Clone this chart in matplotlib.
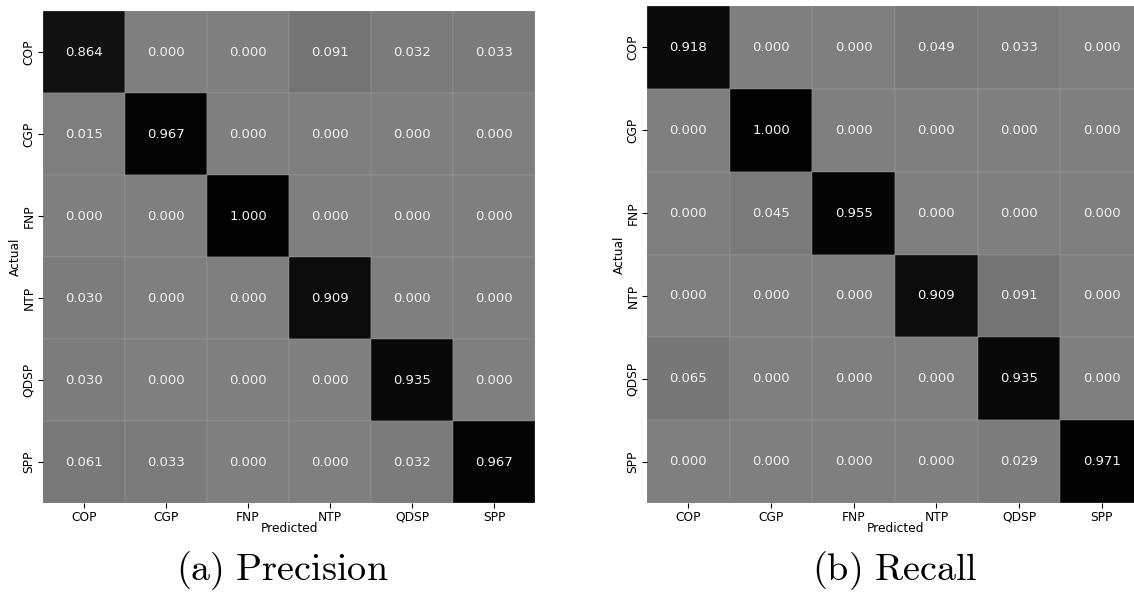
import numpy as np
import matplotlib
matplotlib.use("Agg")
import matplotlib.pyplot as plt

classes = ["COP", "CGP", "FNP", "NTP", "QDSP", "SPP"]

precision = [
    [0.864, 0.000, 0.000, 0.091, 0.032, 0.033],
    [0.015, 0.967, 0.000, 0.000, 0.000, 0.000],
    [0.000, 0.000, 1.000, 0.000, 0.000, 0.000],
    [0.030, 0.000, 0.000, 0.909, 0.000, 0.000],
    [0.030, 0.000, 0.000, 0.000, 0.935, 0.000],
    [0.061, 0.033, 0.000, 0.000, 0.032, 0.967],
]

recall = [
    [0.918, 0.000, 0.000, 0.049, 0.033, 0.000],
    [0.000, 1.000, 0.000, 0.000, 0.000, 0.000],
    [0.000, 0.045, 0.955, 0.000, 0.000, 0.000],
    [0.000, 0.000, 0.000, 0.909, 0.091, 0.000],
    [0.065, 0.000, 0.000, 0.000, 0.935, 0.000],
    [0.000, 0.000, 0.000, 0.000, 0.029, 0.971],
]

captions = ["(a) Precision", "(b) Recall"]

plt.rcParams["mathtext.fontset"] = "cm"

W, H = 1134, 593
fig = plt.figure(figsize=(W / 100, H / 100), dpi=100)


def heatmap(ax, data):
    m = np.array(data)
    n = len(classes)
    ax.pcolormesh(np.arange(n + 1), np.arange(n + 1), m, cmap="gray_r",
                  vmin=-1, vmax=1, edgecolors="#9c9c9c", linewidth=0.3,
                  antialiased=True)
    ax.set_xlim(0, n)
    ax.set_ylim(n, 0)
    for i in range(n):
        for j in range(n):
            ax.text(j + 0.5, i + 0.5, f"{m[i, j]:.3f}", ha="center",
                    va="center", color="#f2f2f2", fontsize=9.5)
    ax.set_xticks(np.arange(n) + 0.5)
    ax.set_yticks(np.arange(n) + 0.5)
    ax.set_xticklabels(classes, fontsize=8.8)
    ax.set_yticklabels(classes, fontsize=8.8, rotation=90, va="center")
    ax.tick_params(length=3.5, width=0.8, pad=2)
    ax.set_xlabel("Predicted", fontsize=8.8, labelpad=-1)
    ax.set_ylabel("Actual", fontsize=8.8, labelpad=0)
    for s in ax.spines.values():
        s.set_visible(False)


boxes = [(43, 11, 492, 492), (647, 6, 496, 497)]
caption_x = [282, 895]
for (x, y, w, h), data, cap, cx in zip(boxes, [precision, recall],
                                       captions, caption_x):
    ax = fig.add_axes([x / W, 1 - (y + h) / H, w / W, h / H])
    heatmap(ax, data)
    fig.text(cx / W, 1 - 571 / H, r"$\mathrm{" + cap.replace(" ", r"\ ") + "}$",
             ha="center", va="center", fontsize=27.5)

fig.savefig("out.png", dpi=100)
